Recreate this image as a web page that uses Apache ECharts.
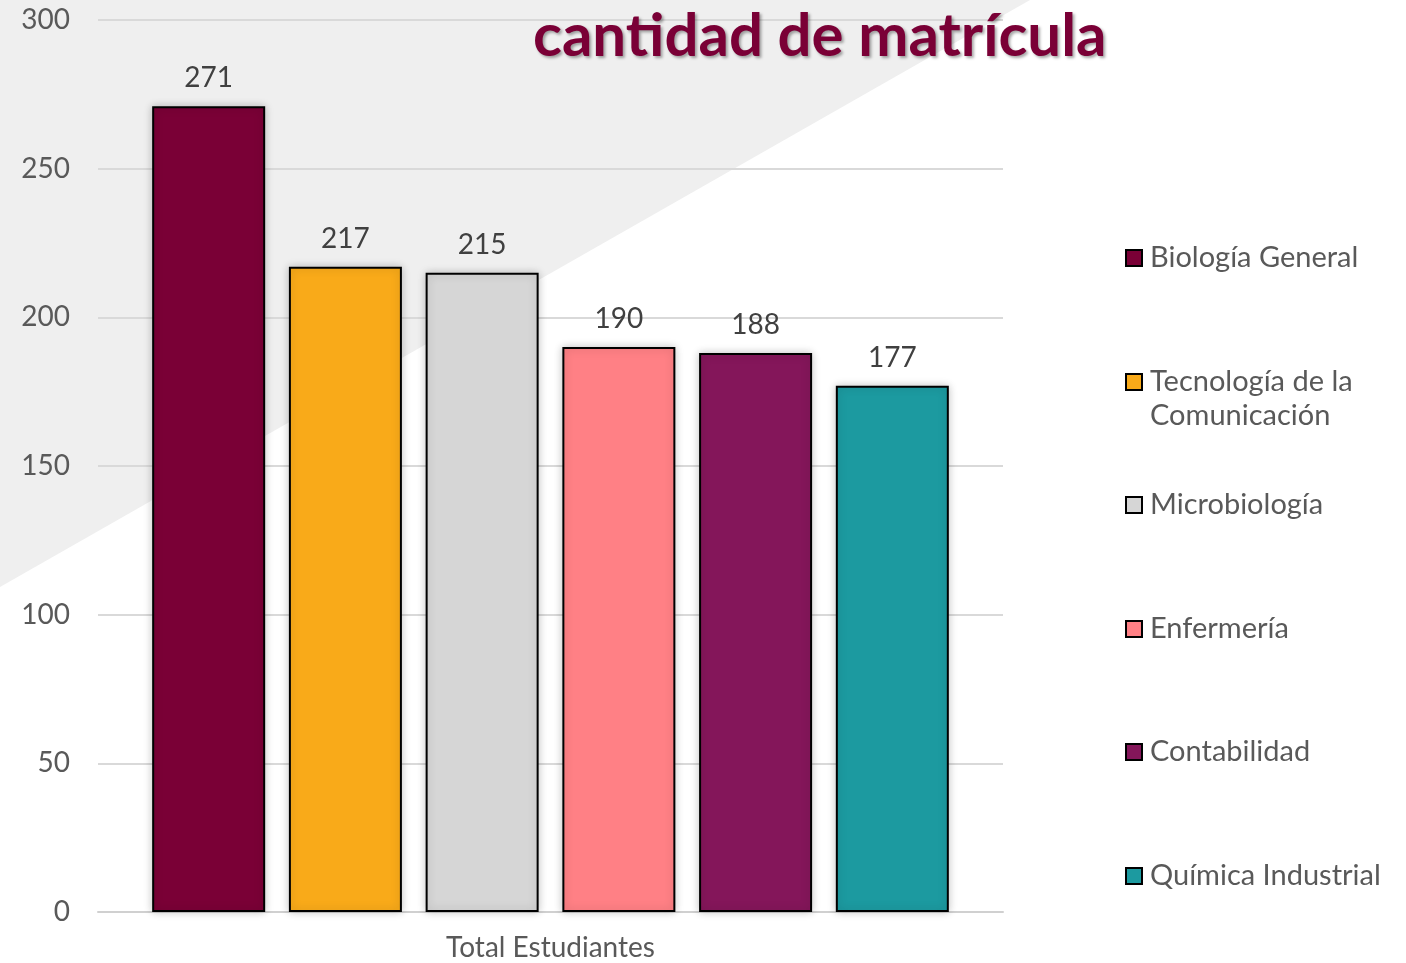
<!DOCTYPE html>
<html>
<head>
<meta charset="utf-8">
<title>Carreras con mayor cantidad de matrícula</title>
<script src="https://cdn.jsdelivr.net/npm/echarts@6/dist/echarts.min.js"></script>
<style>
  html, body { margin: 0; padding: 0; background: #fff; }
  #chart { width: 1406px; height: 963px; }
</style>
</head>
<body>
<div id="chart"></div>
<script>
// datos
const categories = ['Total Estudiantes']
const careers = ['Biología General', 'Tecnología de la Comunicación', 'Microbiología', 'Enfermería', 'Contabilidad', 'Química Industrial']
const students = [271, 217, 215, 190, 188, 177]
const colors = ['#7a0036', '#f9aa19', '#d6d6d6', '#ff8085', '#84165a', '#1c9aa0']
const yTicks = { min: 0, max: 300, interval: 50 }

const font = 'Lato, "Open Sans", sans-serif'
const legendCenters = [258, 382, 505, 629, 752, 876] // posición vertical de cada icono

let myChart = echarts.init(document.getElementById('chart'))

const series = careers.map((name, i) => ({
  name: name,
  type: 'bar',
  barWidth: 113,
  barGap: '21%',
  itemStyle: {
    color: colors[i],
    borderColor: '#000',
    borderWidth: 2,
    shadowBlur: 8,
    shadowColor: 'rgba(0,0,0,0.22)'
  },
  label: {
    show: true,
    position: 'top',
    distance: 14,
    fontFamily: font,
    fontSize: 28,
    color: '#404040'
  },
  data: [students[i]]
}))

// una leyenda por elemento para controlar el espaciado
const legends = careers.map((name, i) => {
  const multi = name.length > 20
  return {
    data: [name],
    orient: 'vertical',
    left: 1125,
    top: legendCenters[i] - (multi ? 51 : 17),
    padding: 0,
    icon: 'rect',
    itemWidth: 16,
    itemHeight: 16,
    // línea vacía arriba para que el icono quede junto a la primera línea
    formatter: n => n === 'Tecnología de la Comunicación' ? '\nTecnología de la\nComunicación' : n,
    textStyle: {
      fontFamily: font,
      fontSize: 29,
      lineHeight: 34,
      color: '#595959',
      padding: [0, 0, 0, 3]
    }
  }
})

myChart.setOption({
  backgroundColor: '#fff',
  animation: false,
  title: {
    text: 'cantidad de matrícula',
    left: 528,
    top: 2,
    textStyle: {
      fontFamily: font,
      fontWeight: 'bold',
      fontSize: 60,
      color: '#7a0036',
      textShadowColor: 'rgba(0,0,0,0.35)',
      textShadowBlur: 3,
      textShadowOffsetX: 2,
      textShadowOffsetY: 2
    }
  },
  graphic: [{
    type: 'polygon',
    z: -10,
    silent: true,
    shape: { points: [[0, 0], [1030, 0], [0, 587]] },
    style: { fill: '#efefef' }
  }],
  legend: legends,
  grid: {
    left: 98,
    right: 403,
    top: 20,
    bottom: 51
  },
  xAxis: {
    type: 'category',
    data: categories,
    axisTick: { show: false },
    axisLine: { lineStyle: { color: '#d0d0d0', width: 2 } },
    axisLabel: {
      margin: 22,
      fontFamily: font,
      fontSize: 28,
      color: '#595959'
    }
  },
  yAxis: {
    type: 'value',
    min: yTicks.min,
    max: yTicks.max,
    interval: yTicks.interval,
    axisLine: { show: false },
    axisTick: { show: false },
    splitLine: { lineStyle: { color: '#d9d9d9', width: 2 } },
    axisLabel: {
      margin: 28,
      fontFamily: font,
      fontSize: 28,
      color: '#595959'
    }
  },
  series: series
})
</script>
</body>
</html>
